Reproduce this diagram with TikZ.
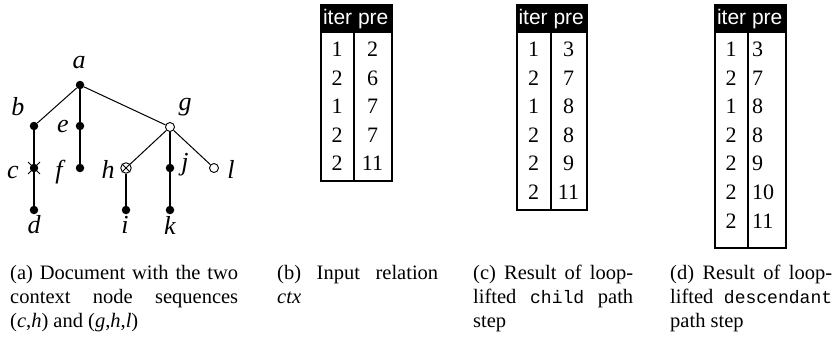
\documentclass[tikz,border=0pt]{standalone}
\usepackage{fontspec}
\setmainfont{Liberation Serif}
\setsansfont{Liberation Sans}
\setmonofont[Scale=0.88]{Liberation Mono}
\usetikzlibrary{shapes.misc}
\begin{document}
\begin{tikzpicture}[x=1pt,y=-1pt,
  dot/.style={circle,fill=black,inner sep=0pt,minimum size=8.5pt},
  odot/.style={circle,draw=black,fill=white,line width=0.9pt,inner sep=0pt,minimum size=9pt},
  xmark/.style={cross out,draw=black,line width=0.9pt,inner sep=0pt,minimum size=#1},
  lbl/.style={inner sep=0pt,font=\fontsize{26}{26}\selectfont\itshape},
  thinedge/.style={line width=1pt},
  thickedge/.style={line width=2.4pt},
  frame/.style={draw=black,line width=2pt,inner sep=0pt,anchor=north west},
  hdr/.style={fill=black,text=white,inner sep=0pt,anchor=north west,minimum height=29pt,
    font=\sffamily\fontsize{21}{21}\selectfont},
  num/.style={inner sep=0pt,anchor=base,font=\fontsize{22}{22}\selectfont},
  captxt/.style={inner sep=0pt,anchor=base west}
]
\useasboundingbox (0,0) rectangle (835,340);

% ---------- tree ----------
\node[dot]  (a) at (80,85) {};
\node[dot]  (b) at (34,126) {};
\node[dot]  (e) at (80,126) {};
\node[odot] (g) at (170,127) {};
\node[dot]  (c) at (34,168) {};
\node[dot]  (f) at (80,168) {};
\node[odot,minimum size=10.5pt] (h) at (126,168) {};
\node[dot]  (j) at (170,168) {};
\node[odot] (l) at (214,168) {};
\node[dot]  (d) at (34,210) {};
\node[dot]  (i) at (126,210) {};
\node[dot]  (k) at (170,210) {};
\node[xmark=11pt] (cx) at (c) {};
\node[xmark=7.4pt] (hx) at (h) {};

\draw[thinedge] (a) -- (b);
\draw[thickedge] (a) -- (e);
\draw[thinedge] (a) -- (g);
\draw[thickedge] (b) -- (c);
\draw[thickedge] (c) -- (d);
\draw[thickedge] (e) -- (f);
\draw[thinedge] (g) -- (h);
\draw[thickedge] (g) -- (j);
\draw[thinedge] (g) -- (l);
\draw[thickedge] (h) -- (i);
\draw[thickedge] (j) -- (k);

\node[lbl] (la) at (79,63) {a};
\node[lbl] (lb) at (18,107) {b};
\node[lbl] (le) at (63,127) {e};
\node[lbl] (lg) at (185,107) {g};
\node[lbl] (lc) at (13,172) {c};
\node[lbl] (lf) at (59,172) {f};
\node[lbl] (lh) at (108,169) {h};
\node[lbl] (lj) at (185,165) {j};
\node[lbl] (ll) at (231,169) {l};
\node[lbl] (ld) at (34,225) {d};
\node[lbl] (li) at (125,225) {i};
\node[lbl] (lk) at (170,225) {k};

% ---------- table (b) ----------
\node[frame,minimum width=71pt,minimum height=176pt] (tbf) at (320,4) {};
\node[hdr,minimum width=71pt] (tbh) at (320,4) {iter pre};
\draw[line width=2pt] (354,33) -- (354,180);
\foreach \l/\r [count=\k] in {1/2,2/6,1/7,2/7,2/11}{
  \node[num] at (337,{56.5+28.6*(\k-1)}) {\l};
  \node[num] at (372.5,{56.5+28.6*(\k-1)}) {\r};
}

% ---------- table (c) ----------
\node[frame,minimum width=70pt,minimum height=205pt] (tcf) at (516,4) {};
\node[hdr,minimum width=70pt] (tch) at (516,4) {iter pre};
\draw[line width=2pt] (551,33) -- (551,209);
\foreach \l/\r [count=\k] in {1/3,2/7,1/8,2/8,2/9,2/11}{
  \node[num] at (533.5,{56.5+28.6*(\k-1)}) {\l};
  \node[num] at (568.5,{56.5+28.6*(\k-1)}) {\r};
}

% ---------- table (d) ----------
\node[frame,minimum width=71pt,minimum height=243pt] (tdf) at (714,4) {};
\node[hdr,minimum width=71pt] (tdh) at (714,4) {iter pre};
\draw[line width=2pt] (748,33) -- (748,247);
\foreach \l/\r [count=\k] in {1/3,2/7,1/8,2/8,2/9,2/10,2/11}{
  \node[num] at (731,{56.5+28.6*(\k-1)}) {\l};
  \node[num,anchor=base west] at (752,{56.5+28.6*(\k-1)}) {\r};
}

% ---------- captions ----------
\node[captxt] (capa) at (10,279) {\parbox[t]{228pt}{\fontsize{20.5}{24}\selectfont\hbadness=10000\tolerance=9999
(a) Document with the two\linebreak context node sequences\linebreak (\textit{c},\textit{h}) and (\textit{g},\textit{h},\textit{l})}};
\node[captxt] (capb) at (277,279) {\parbox[t]{161pt}{\fontsize{20.5}{24}\selectfont\hbadness=10000\tolerance=9999
(b) Input relation\linebreak \textit{ctx}}};
\node[captxt] (capc) at (473,279) {\parbox[t]{160pt}{\fontsize{20.5}{24}\selectfont\hbadness=10000\tolerance=9999
(c) Result of loop-\linebreak lifted \texttt{child} path\linebreak step}};
\node[captxt] (capd) at (670,279) {\parbox[t]{162pt}{\fontsize{20.5}{24}\selectfont\hbadness=10000\tolerance=9999
(d) Result of loop-\linebreak lifted \texttt{descendant}\linebreak path step}};
\end{tikzpicture}
\end{document}
